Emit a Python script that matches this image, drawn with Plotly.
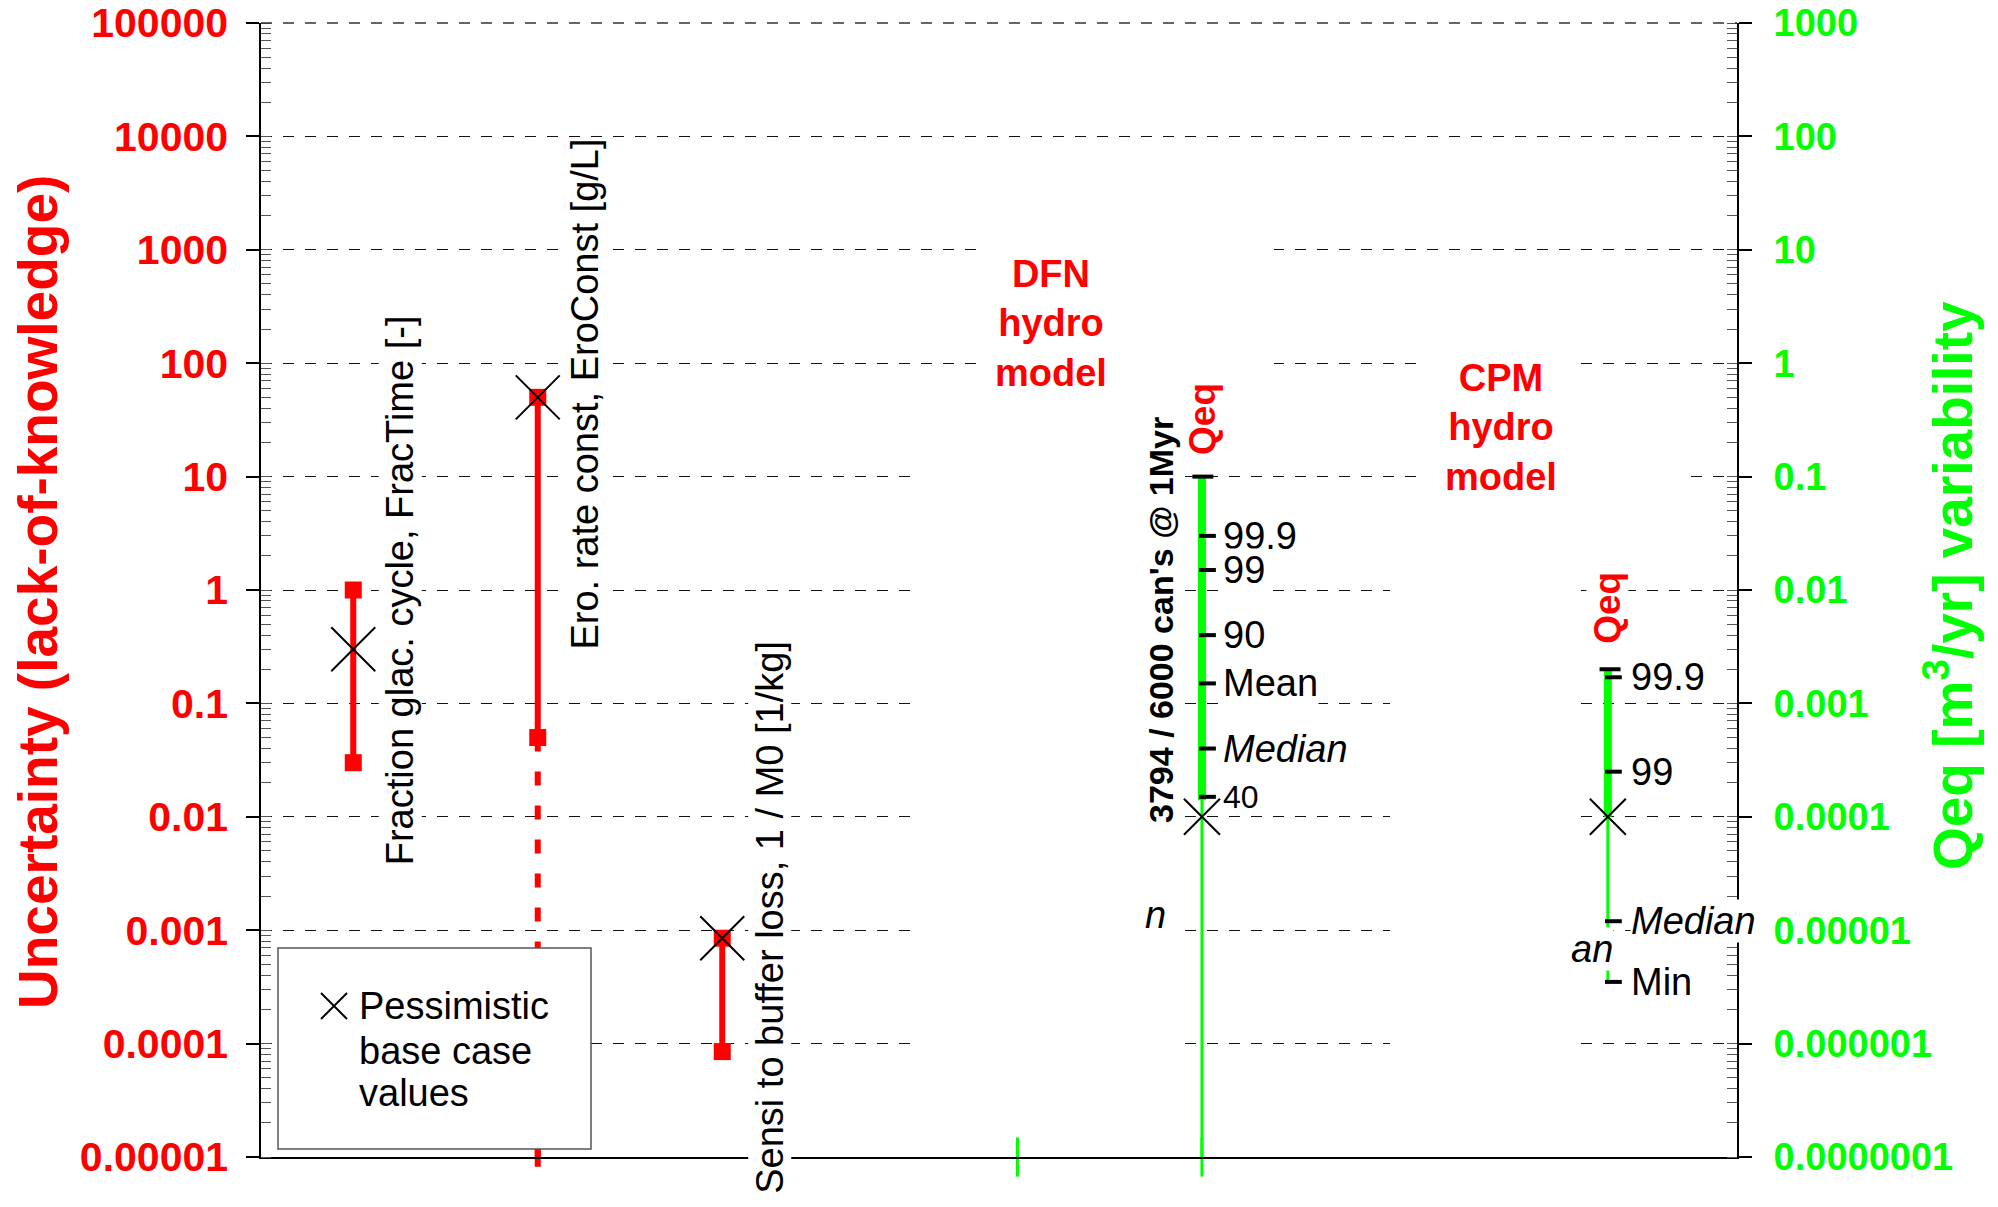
import math
import plotly.graph_objects as go

# ---------------- data ----------------
param_names = ["Fraction glac. cycle, FracTime [-]",
               "Ero. rate const, EroConst [g/L]",
               "Sensi to buffer loss, 1 / M0 [1/kg]"]
param_x = [0.5, 1.5, 2.5]
param_low = [0.03, 0.05, 8.5e-5]
param_high = [1.0, 50.0, 8.5e-4]
param_base = [0.3, 50.0, 8.5e-4]
ero_extension_low = 1e-5          # dotted extension of the erosion range

hydro_x = [5.1, 7.3]              # DFN, CPM
hydro_base = [1e-4, 1e-4]
dfn_max = 0.1
dfn_min = 1e-7
dfn_thick_low = 1.4e-4
dfn_pct_labels = ["99.9", "99", "90", "Mean", "<i>Median</i>", "40"]
dfn_pct_values = [0.03, 0.015, 0.004, 0.0015, 4e-4, 1.5e-4]
cpm_max = 0.002
cpm_min = 3.5e-6
cpm_thick_low = 1e-4
cpm_pct_labels = ["99.9", "99", "<i>Median</i>", "Min"]
cpm_pct_values = [0.0017, 2.5e-4, 1.2e-5, 3.5e-6]
extra_tick_x = [4.1]
extra_tick_y = [1e-7]

left_tickvals = [1e-5, 1e-4, 1e-3, 1e-2, 1e-1, 1, 10, 100, 1000, 1e4, 1e5]
left_ticktext = ["0.00001", "0.0001", "0.001", "0.01", "0.1", "1", "10",
                 "100", "1000", "10000", "100000"]
right_tickvals = [1e-7, 1e-6, 1e-5, 1e-4, 1e-3, 1e-2, 1e-1, 1, 10, 100, 1000]
right_ticktext = ["0.0000001", "0.000001", "0.00001", "0.0001", "0.001",
                  "0.01", "0.1", "1", "10", "100", "1000"]

# ---------------- styling ----------------
RED = "#FF0000"
GREEN = "#00FF00"
FONT = "Liberation Sans, Arial, sans-serif"
BODY = 8                      # default page margin of the html body
W, H = 1998 - BODY, 1207 - BODY
PL, PR, PT, PB = 261, 1737, 23, 1157   # plot area in page pixels
XMAX = 8.0


def px(xf):
    return (xf - PL) / (PR - PL)


def py(yf):
    return (PB - yf) / (PB - PT)


def dx(xf):                   # page px -> x data
    return px(xf) * XMAX


def dy(yf):                   # page px -> left-axis data value
    return 10 ** (-5 + 10 * py(yf))


def minor_vals(lo, hi):
    vals = []
    for e in range(lo, hi):
        for k in range(1, 10):
            vals.append(k * 10 ** e)
    vals.append(10 ** hi)
    return vals


fig = go.Figure()

# parameter uncertainty ranges (left axis)
for i in range(len(param_x)):
    fig.add_trace(go.Scatter(
        x=[param_x[i], param_x[i]], y=[param_low[i], param_high[i]],
        mode="lines+markers", line=dict(color=RED, width=6),
        marker=dict(symbol="square", size=17, color=RED),
        showlegend=False, hoverinfo="skip"))

# dotted extension of erosion range
fig.add_trace(go.Scatter(
    x=[param_x[1], param_x[1]], y=[param_low[1], ero_extension_low],
    mode="lines", line=dict(color=RED, width=6, dash="14px,20px"),
    showlegend=False, hoverinfo="skip"))
fig.add_trace(go.Scatter(
    x=[param_x[1]], y=[ero_extension_low], mode="markers",
    marker=dict(symbol="line-ns", size=14, line=dict(color=RED, width=6)),
    cliponaxis=False, showlegend=False, hoverinfo="skip"))

# Qeq variability (right axis)
fig.add_trace(go.Scatter(
    x=[hydro_x[0], hydro_x[0]], y=[dfn_min, dfn_max], yaxis="y2",
    mode="lines", line=dict(color=GREEN, width=3),
    showlegend=False, hoverinfo="skip"))
fig.add_trace(go.Scatter(
    x=[hydro_x[0], hydro_x[0]], y=[dfn_thick_low, dfn_max], yaxis="y2",
    mode="lines", line=dict(color=GREEN, width=8),
    showlegend=False, hoverinfo="skip"))
fig.add_trace(go.Scatter(
    x=[hydro_x[1], hydro_x[1]], y=[cpm_min, cpm_max], yaxis="y2",
    mode="lines", line=dict(color=GREEN, width=3),
    showlegend=False, hoverinfo="skip"))
fig.add_trace(go.Scatter(
    x=[hydro_x[1], hydro_x[1]], y=[cpm_thick_low, cpm_max], yaxis="y2",
    mode="lines", line=dict(color=GREEN, width=8),
    showlegend=False, hoverinfo="skip"))

# green ticks crossing the bottom axis
fig.add_trace(go.Scatter(
    x=extra_tick_x + [hydro_x[0]], y=extra_tick_y + [dfn_min], yaxis="y2",
    mode="markers",
    marker=dict(symbol="line-ns", size=28, line=dict(color=GREEN, width=3)),
    cliponaxis=False, showlegend=False, hoverinfo="skip"))

# percentile ticks
TICK_OFF = 0.03
fig.add_trace(go.Scatter(
    x=[hydro_x[0] + TICK_OFF] * len(dfn_pct_values) + [hydro_x[1] + TICK_OFF] * len(cpm_pct_values),
    y=dfn_pct_values + cpm_pct_values, yaxis="y2", mode="markers",
    marker=dict(symbol="line-ew", size=12, line=dict(color="black", width=4)),
    showlegend=False, hoverinfo="skip"))
fig.add_trace(go.Scatter(
    x=[hydro_x[0] + 0.005, hydro_x[1] + 0.012], y=[dfn_max, cpm_max], yaxis="y2",
    mode="markers",
    marker=dict(symbol="line-ew", size=15, line=dict(color="black", width=4)),
    showlegend=False, hoverinfo="skip"))

# pessimistic base case markers
fig.add_trace(go.Scatter(
    x=param_x, y=param_base, mode="markers",
    marker=dict(symbol="x-thin", size=44, line=dict(color="black", width=2)),
    showlegend=False, hoverinfo="skip"))
fig.add_trace(go.Scatter(
    x=hydro_x, y=hydro_base, yaxis="y2", mode="markers",
    marker=dict(symbol="x-thin", size=36, line=dict(color="black", width=2)),
    showlegend=False, hoverinfo="skip"))

# ---------------- annotations ----------------
ann = []


def add_ann(**kw):
    kw.setdefault("showarrow", False)
    kw.setdefault("xanchor", "center")
    kw.setdefault("yanchor", "middle")
    ann.append(kw)


# axis titles
add_ann(text="<b>Uncertainty (lack-of-knowledge)</b>", xref="paper", yref="paper",
        x=px(38), y=py(592), textangle=-90,
        font=dict(family=FONT, size=55, color=RED))
add_ann(text="<b>Qeq [m<sup>3</sup>/yr] variability</b>", xref="paper", yref="paper",
        x=px(1949), y=py(586), textangle=-90,
        font=dict(family=FONT, size=55, color=GREEN))

# parameter labels
label_centers = [0.0, 1.73, -2.888]
for i, name in enumerate(param_names):
    add_ann(text=name, xref="x", yref="y", x=param_x[i], xshift=47,
            y=label_centers[i], textangle=-90,
            bgcolor="white", borderpad=0,
            font=dict(family=FONT, size=38, color="black"))

# model labels
add_ann(text="<b>DFN<br>hydro<br>model</b>", xref="paper", yref="paper",
        x=px(1051), y=py(324), align="center",
        font=dict(family=FONT, size=38, color=RED))
add_ann(text="<b>CPM<br>hydro<br>model</b>", xref="paper", yref="paper",
        x=px(1501), y=py(428), align="center",
        font=dict(family=FONT, size=38, color=RED))
add_ann(text="<b>Qeq</b>", xref="x", yref="paper", x=hydro_x[0], y=py(419),
        textangle=-90, bgcolor="white", borderpad=0,
        font=dict(family=FONT, size=37, color=RED))
add_ann(text="<b>Qeq</b>", xref="x", yref="paper", x=hydro_x[1], y=py(608),
        textangle=-90, bgcolor="white", borderpad=0,
        font=dict(family=FONT, size=37, color=RED))
add_ann(text="<b>3794 / 6000 can's @ 1Myr</b>", xref="x", yref="paper",
        x=hydro_x[0], xshift=-41, y=py(620), textangle=-90,
        font=dict(family=FONT, size=34, color="black"))

# percentile labels
for lab, v in zip(dfn_pct_labels, dfn_pct_values):
    add_ann(text=lab, xref="x", yref="y2", x=hydro_x[0], xshift=20,
            y=math.log10(v), xanchor="left",
            bgcolor="white", borderpad=0,
            font=dict(family=FONT, size=32 if lab == "40" else 38, color="black"))
for lab, v in zip(cpm_pct_labels, cpm_pct_values):
    add_ann(text=lab, xref="x", yref="y2", x=hydro_x[1], xshift=22,
            y=math.log10(v), xanchor="left",
            bgcolor="white", borderpad=0,
            font=dict(family=FONT, size=38, color="black"))
add_ann(text="<i>n</i>", xref="x", yref="y2", x=hydro_x[0], xshift=-35,
        y=-4.866, xanchor="right", bgcolor="white", borderpad=0,
        font=dict(family=FONT, size=38, color="black"))
add_ann(text="<i>an</i>", xref="x", yref="y2", x=hydro_x[1], xshift=6,
        y=-5.166, xanchor="right", bgcolor="white", borderpad=0,
        font=dict(family=FONT, size=38, color="black"))

# legend text
for txt, yf in zip(["Pessimistic", "base case", "values"], [1006, 1051, 1093]):
    add_ann(text=txt, xref="paper", yref="paper", x=px(357), y=py(yf),
            xanchor="left", font=dict(family=FONT, size=38, color="black"))

# ---------------- shapes ----------------
shapes = []
# dashed line along the top edge (grid at 1e5)
shapes.append(dict(type="line", xref="paper", yref="paper", x0=0, x1=1, y0=1, y1=1,
                   line=dict(color="#333333", width=1.5, dash="11px,11px"), layer="above"))
# white areas that interrupt the dashed grid (behind the data)
gap_boxes = [(977, 185, 1274, 410), (914, 420, 1180, 1058),
             (1421, 330, 1574, 505), (1574, 455, 1690, 500),
             (1390, 505, 1574, 1058)]
for x0, y0, x1, y1 in gap_boxes:
    shapes.append(dict(type="rect", xref="x", yref="y",
                       x0=dx(x0), x1=dx(x1), y0=dy(y1), y1=dy(y0),
                       fillcolor="white", line=dict(width=0), layer="between"))
# legend box
shapes.append(dict(type="rect", xref="paper", yref="paper",
                   x0=px(278), x1=px(591), y0=py(1149), y1=py(948),
                   fillcolor="white", line=dict(color="#555555", width=1.5), layer="above"))
for sx in (-1, 1):
    shapes.append(dict(type="line", xref="paper", yref="paper",
                       xsizemode="pixel", ysizemode="pixel",
                       xanchor=px(334), yanchor=py(1006),
                       x0=-13, x1=13, y0=-13 * sx, y1=13 * sx,
                       line=dict(color="black", width=2), layer="above"))

fig.update_layout(
    width=W, height=H, autosize=False,
    margin=dict(l=PL - BODY, r=W - (PR - BODY), t=PT - BODY, b=H - (PB - BODY),
                pad=0, autoexpand=False),
    paper_bgcolor="white", plot_bgcolor="white",
    showlegend=False,
    annotations=ann, shapes=shapes,
    xaxis=dict(range=[0, XMAX], showticklabels=False, ticks="", showgrid=False,
               automargin=False,
               zeroline=False, showline=True, linecolor="black", linewidth=2),
    yaxis=dict(type="log", range=[-5, 5], tickmode="array",
               tickvals=left_tickvals, ticktext=left_ticktext,
               tickfont=dict(family=FONT, size=41, color=RED, weight="bold"),
               ticks="outside", ticklen=13, tickwidth=1.5, tickcolor="black",
               ticklabelstandoff=10, automargin=False, ticklabeloverflow="allow",
               showline=True, linecolor="black", linewidth=1.5,
               showgrid=True, gridcolor="#111111", gridwidth=1, griddash="11px,11px",
               zeroline=False,
               minor=dict(tickmode="array", tickvals=minor_vals(-5, 5),
                          ticks="inside", ticklen=10, tickwidth=1, tickcolor="#555555",
                          showgrid=False)),
    yaxis2=dict(type="log", range=[-7, 3], overlaying="y", side="right", anchor="x",
                tickmode="array", tickvals=right_tickvals, ticktext=right_ticktext,
                tickfont=dict(family=FONT, size=38, color=GREEN, weight="bold"),
                ticks="outside", ticklen=13, tickwidth=1.5, tickcolor="black",
                ticklabelstandoff=14, automargin=False, ticklabeloverflow="allow",
                showline=True, linecolor="black", linewidth=2,
                showgrid=False, zeroline=False,
                minor=dict(tickmode="array", tickvals=minor_vals(-7, 3),
                           ticks="inside", ticklen=10, tickwidth=1, tickcolor="#555555",
                           showgrid=False)),
)

fig.write_html("out.html")
